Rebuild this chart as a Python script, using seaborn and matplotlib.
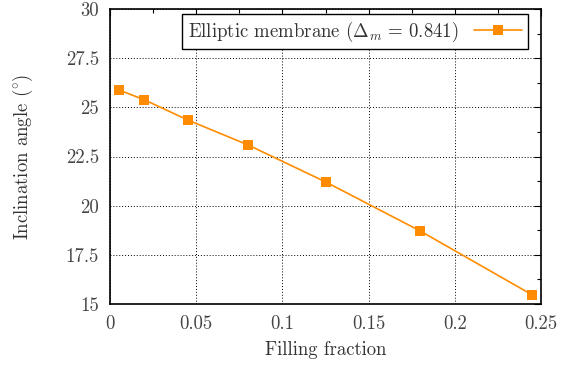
import matplotlib
matplotlib.use("Agg")
import matplotlib.pyplot as plt
import seaborn as sns
import pandas as pd
from matplotlib.ticker import MultipleLocator

filling_fraction = [0.005, 0.02, 0.045, 0.08, 0.125, 0.18, 0.245]
inclination_angle = [25.89, 25.38, 24.36, 23.09, 21.21, 18.71, 15.46]
series_label = r"Elliptic membrane ($\Delta_m\,=\,0.841$)"
x_ticks = [0, 0.05, 0.1, 0.15, 0.2, 0.25]
x_tick_labels = ["0", "0.05", "0.1", "0.15", "0.2", "0.25"]
y_ticks = [15, 17.5, 20, 22.5, 25, 27.5, 30]
y_tick_labels = ["15", "17.5", "20", "22.5", "25", "27.5", "30"]

sns.set_theme(style="white")
plt.rcParams["font.family"] = ["cmr10", "DejaVu Serif"]
plt.rcParams["mathtext.fontset"] = "cm"
plt.rcParams["axes.unicode_minus"] = False

FS = 13.5
df = pd.DataFrame({"x": filling_fraction, "y": inclination_angle, "s": series_label})

fig = plt.figure(figsize=(5.68, 3.68), dpi=100)
ax = fig.add_axes([110 / 568, 64 / 368, 431 / 568, 295 / 368])

sns.lineplot(data=df, x="x", y="y", hue="s", palette=["#ff8c00"], marker="s",
             markersize=7.5, markeredgewidth=0, linewidth=1.2, ax=ax)

ax.set_xlim(0, 0.25)
ax.set_ylim(15, 30)
ax.set_xticks(x_ticks)
ax.set_xticklabels(x_tick_labels, fontsize=FS, color="#444444")
ax.set_yticks(y_ticks)
ax.set_yticklabels(y_tick_labels, fontsize=FS, color="#444444")
ax.xaxis.set_minor_locator(MultipleLocator(0.025))
ax.yaxis.set_minor_locator(MultipleLocator(1.25))
ax.tick_params(which="both", direction="in", top=True, right=True, color="black")
ax.tick_params(which="major", length=5, width=0.8, pad=8)
ax.tick_params(which="minor", length=3, width=0.8)
for sp in ax.spines.values():
    sp.set_color("black")
    sp.set_linewidth(1.2)
ax.grid(True, which="major", linestyle=(0, (1, 2)), color="black", linewidth=0.7)

ax.set_xlabel("Filling fraction", fontsize=FS, color="#333333", labelpad=6)
ax.set_ylabel(r"Inclination angle ($^{\circ}$)", fontsize=FS, color="#333333", labelpad=22)

leg = ax.legend(loc="upper right", markerfirst=False, frameon=True, fancybox=False,
                fontsize=FS, borderpad=0.3, borderaxespad=0, handlelength=2.6,
                handletextpad=0.8, framealpha=1, bbox_to_anchor=(0.97, 0.983))
leg.get_frame().set_edgecolor("black")
leg.get_frame().set_linewidth(1.0)
for t in leg.get_texts():
    t.set_color("#333333")

fig.savefig("out.png", dpi=100)
